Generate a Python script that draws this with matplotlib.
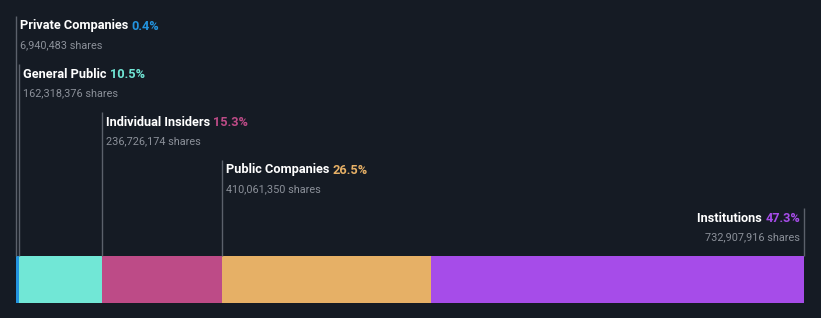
import matplotlib
matplotlib.use("Agg")
import matplotlib.pyplot as plt
from matplotlib.transforms import offset_copy

categories = ["Private Companies", "General Public", "Individual Insiders", "Public Companies", "Institutions"]
percents = [0.4, 10.5, 15.3, 26.5, 47.3]
shares = ["6,940,483", "162,318,376", "236,726,174", "410,061,350", "732,907,916"]
colors = ["#2394df", "#71e7d6", "#bd4b87", "#e6b066", "#a64ce9"]

BG = "#151b24"
W, H = 821, 318
fig = plt.figure(figsize=(W / 100, H / 100), dpi=100, facecolor=BG)
ax = fig.add_axes([0, 0, 1, 1])
ax.set_facecolor(BG)
ax.axis("off")

x0_px, bar_w_px = 16, 788
scale = bar_w_px / 100.0
ax.set_xlim(-x0_px / scale, (W - x0_px) / scale)
ax.set_ylim(H, 0)

bar_top, bar_bot = 256, 303
lefts = []
acc = 0.0
for p in percents:
    lefts.append(acc)
    acc += p
ax.barh((bar_top + bar_bot) / 2, percents, left=lefts, height=bar_bot - bar_top,
        color=colors, edgecolor="none")

renderer = fig.canvas.get_renderer()
title_fs = 9.2
share_fs = 7.8
fam = ["Roboto", "DejaVu Sans"]
n = len(categories)
for i, (cat, p, sh, c, l) in enumerate(zip(categories, percents, shares, colors, lefts)):
    base = 29.5 + 48 * i
    line_top = base - 13.5
    last = i == n - 1
    lx = (l + p) if last else l
    ax.plot([lx, lx], [line_top, bar_top], color="#5b616b", lw=1.0, solid_capstyle="butt")
    if not last:
        tx = lx + 4 / scale
        t1 = ax.text(tx, base, cat + " ", color="white", fontsize=title_fs, fontweight="bold",
                     family=fam, va="baseline", ha="left")
        bb = t1.get_window_extent(renderer)
        tr = offset_copy(ax.transData, fig=fig, x=bb.width, y=0, units="dots")
        ax.text(tx, base, f"{p}%", color=c, fontsize=title_fs, fontweight="bold",
                family=fam, va="baseline", ha="left", transform=tr)
        ax.text(tx, base + 18.5, f"{sh} shares", color="#8b9099", fontsize=share_fs,
                family=fam, va="baseline", ha="left")
    else:
        tx = lx - 4 / scale
        t2 = ax.text(tx, base, f"{p}%", color=c, fontsize=title_fs, fontweight="bold",
                     family=fam, va="baseline", ha="right")
        bb = t2.get_window_extent(renderer)
        tr = offset_copy(ax.transData, fig=fig, x=-bb.width, y=0, units="dots")
        ax.text(tx, base, cat + " ", color="white", fontsize=title_fs, fontweight="bold",
                family=fam, va="baseline", ha="right", transform=tr)
        ax.text(tx, base + 18.5, f"{sh} shares", color="#8b9099", fontsize=share_fs,
                family=fam, va="baseline", ha="right")

fig.savefig("out.png", dpi=100, facecolor=BG)
